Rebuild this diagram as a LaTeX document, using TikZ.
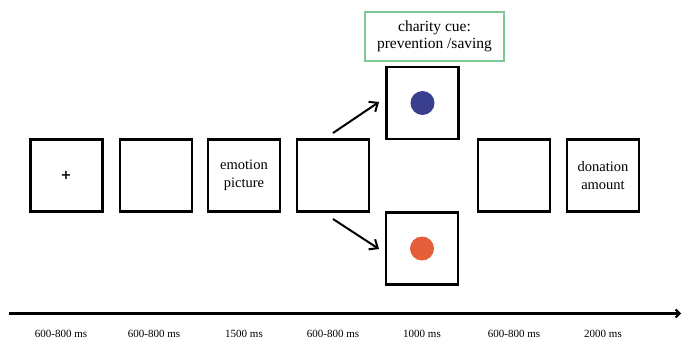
\documentclass[tikz,border=0pt]{standalone}
\usepackage{fontspec}
\setmainfont{Liberation Serif}
\newfontfamily\plusfont{DejaVu Sans}
\usetikzlibrary{arrows.meta}
\definecolor{cuegreen}{RGB}{125,200,150}
\definecolor{dotblue}{RGB}{58,62,142}
\definecolor{dotorange}{RGB}{229,94,58}
\tikzset{
    screen/.style={draw, line width=2.4pt, minimum width=72pt, minimum height=72pt,
        inner sep=0pt, align=center, font=\fontsize{14.5}{18}\selectfont},
    branch/.style={-{Straight Barb[length=7pt, width=12pt, line width=2pt]}, line width=2pt},
    timelabel/.style={font=\fontsize{11}{12}\selectfont}
}
\begin{document}
\begin{tikzpicture}[x=1pt, y=-1pt]
        \useasboundingbox (0,0) rectangle (683,342);
        % Screens
        \node[screen, line width=3pt, font=\plusfont\fontsize{13}{13}\selectfont\bfseries] (fix) at (66,175.5) {+};
        \node[screen] (blank1) at (156,175.5) {};
        \node[screen] (emo) at (244,175.5) {emotion\\picture};
        \node[screen] (blank2) at (333,175.5) {};
        \node[screen] (cueA) at (422.5,103) {};
        \node[screen] (cueB) at (422,248.5) {};
        \node[screen] (blank3) at (514,175.5) {};
        \node[screen] (don) at (603,175.5) {donation\\ amount};
        % Cue dots
        \fill[dotblue] (cueA.center) circle (12);
        \fill[dotorange] (cueB.center) circle (12);
        % Cue label
        \node[draw=cuegreen, line width=2pt, minimum width=139pt, minimum height=49pt,
            align=center, font=\fontsize{15.5}{17}\selectfont] (cue) at (434.5,36.5)
            {charity cue:\\prevention /saving};
        % Branches
        \coordinate (splitA) at (333,133);
        \coordinate (splitB) at (333,219);
        \draw[branch] (splitA) -- (379,102);
        \draw[branch] (splitB) -- (379,249);
        % Timeline
        \coordinate (tstart) at (9,313.5);
        \coordinate (tend) at (681,313.5);
        \draw[-{Straight Barb[length=4pt, width=8pt, line width=2pt]}, line width=3.5pt] (tstart) -- (tend);
        \foreach \n/\t/\dx in {fix/600-800 ms/-5, blank1/600-800 ms/-2, emo/1500 ms/0,
            blank2/600-800 ms/0, cueB/1000 ms/0, blank3/600-800 ms/0, don/2000 ms/0}
        {
            \node[timelabel] (lab-\n) at ([xshift=\dx pt]\n.center |- 0,334) {\t};
        }
    \end{tikzpicture}
\end{document}
